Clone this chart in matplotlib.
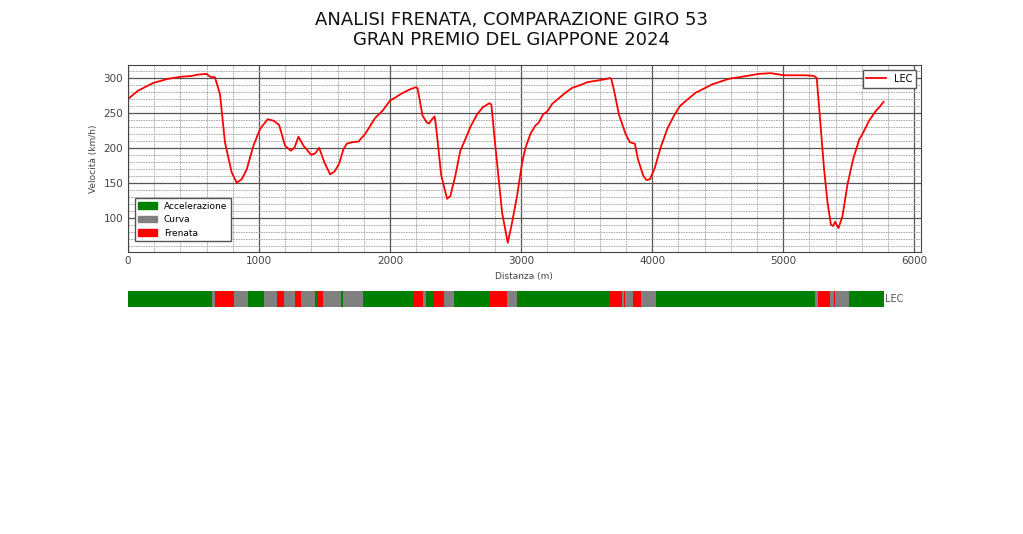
import numpy as np
import matplotlib.pyplot as plt
from matplotlib.patches import Patch
from matplotlib.ticker import MultipleLocator

# velocita' LEC giro 53
distanza = [0, 78, 193, 307, 409, 486, 537, 600, 626, 664, 702, 740, 791, 830, 868,
            906, 957, 1008, 1066, 1110, 1153, 1199, 1242, 1270, 1301, 1339, 1398, 1428,
            1459, 1499, 1543, 1576, 1611, 1644, 1670, 1709, 1759, 1810, 1887, 1942, 2001,
            2039, 2090, 2154, 2198, 2210, 2248, 2282, 2299, 2320, 2340, 2350, 2391, 2435,
            2460, 2498, 2536, 2569, 2613, 2664, 2707, 2758, 2773, 2803, 2855, 2898, 2931,
            2969, 3008, 3033, 3071, 3109, 3134, 3168, 3199, 3237, 3287, 3338, 3390, 3453,
            3504, 3568, 3631, 3677, 3688, 3713, 3746, 3797, 3830, 3868, 3891, 3932, 3957,
            3983, 4018, 4064, 4115, 4166, 4212, 4268, 4332, 4395, 4459, 4523, 4586, 4689,
            4815, 4905, 5006, 5096, 5172, 5236, 5256, 5279, 5312, 5338, 5364, 5381, 5396,
            5422, 5452, 5491, 5534, 5580, 5605, 5656, 5707, 5732, 5766]
velocita = [270, 282, 293, 299, 302, 303, 305, 306, 302, 301, 277, 208, 165, 150, 155,
            169, 203, 227, 241, 239, 233, 203, 196, 200, 216, 203, 190, 192,
            200, 179, 162, 166, 177, 198, 206, 208, 209, 220, 243, 253, 268,
            272, 278, 284, 287, 285, 246, 236, 235, 241, 245, 232, 160, 127,
            131, 160, 196, 210, 230, 248, 258, 264, 262, 203, 107, 64, 93,
            131, 179, 200, 220, 232, 236, 248, 252, 263, 271, 279, 286, 290,
            294, 296, 298, 300, 299, 279, 248, 220, 208, 206, 184, 160, 154,
            155, 170, 200, 227, 246, 260, 269, 279, 285, 291, 295, 299, 302,
            306, 307, 304, 304, 304, 303, 300, 246, 169, 122, 90, 88, 94,
            85, 102, 148, 184, 212, 220, 239, 253, 258, 266]

# fasi lungo il giro: confini (m) e tipo di ogni tratto
confini = [0, 639, 664, 807, 916, 1038, 1140, 1194, 1273, 1321, 1430, 1446, 1492, 1629,
           1644, 1795, 2182, 2251, 2276, 2324, 2409, 2485, 2752, 2890, 2969, 3682, 3772,
           3784, 3791, 3856, 3917, 4031, 5241, 5267, 5356, 5384, 5399, 5503, 5766]
fasi = ['A', 'C', 'F', 'C', 'A', 'C', 'F', 'C', 'F', 'C', 'A', 'F', 'C', 'A',
        'C', 'A', 'F', 'C', 'A', 'F', 'C', 'A', 'F', 'C', 'A', 'F', 'C',
        'F', 'C', 'F', 'C', 'A', 'C', 'F', 'C', 'F', 'C', 'A']
colori = {'A': 'green', 'C': 'grey', 'F': 'red'}

fig = plt.figure(figsize=(10.23, 5.34), dpi=100)
fig.suptitle('ANALISI FRENATA, COMPARAZIONE GIRO 53\nGRAN PREMIO DEL GIAPPONE 2024',
             fontsize=13, y=0.98, color='#111111')

ax = fig.add_axes([0.1251, 0.529, 0.775, 0.349])
ax.plot(distanza, velocita, color='red', lw=1.3, label='LEC')
ax.set_xlim(0, 6050)
ax.set_ylim(51.5, 318.5)
ax.xaxis.set_major_locator(MultipleLocator(1000))
ax.xaxis.set_minor_locator(MultipleLocator(200))
ax.yaxis.set_major_locator(MultipleLocator(50))
ax.yaxis.set_minor_locator(MultipleLocator(10))
ax.grid(which='major', color='#555555', lw=0.9)
ax.grid(which='minor', color='#a0a0a0', lw=0.6, linestyle=(0, (2, 1)))
ax.tick_params(which='both', labelsize=7.5, colors='#444444', length=0)
ax.set_xlabel('Distanza (m)', fontsize=6.5, color='#444444')
ax.set_ylabel('Velocità (km/h)', fontsize=6.5, color='#444444')
for s in ax.spines.values():
    s.set_color('#444444')

leg1 = ax.legend(loc='upper right', fontsize=7, fancybox=False, edgecolor='#555555',
                 framealpha=1)
ax.add_artist(leg1)
maniglie = [Patch(color='green', label='Accelerazione'),
            Patch(color='grey', label='Curva'),
            Patch(color='red', label='Frenata')]
ax.legend(handles=maniglie, loc='lower left', fontsize=6.5, fancybox=False,
          edgecolor='#555555', framealpha=1, bbox_to_anchor=(0.003, 0.03))

ax2 = fig.add_axes([0.1251, 0.425, 0.775, 0.030])
for i in range(len(fasi)):
    ax2.barh(0, confini[i + 1] - confini[i], left=confini[i], height=1,
             color=colori[fasi[i]])
ax2.set_xlim(0, 6050)
ax2.set_ylim(-0.5, 0.5)
ax2.axis('off')
ax2.text(confini[-1] + 10, 0, 'LEC', fontsize=7, color='#555555', va='center')

fig.savefig('out.png')
